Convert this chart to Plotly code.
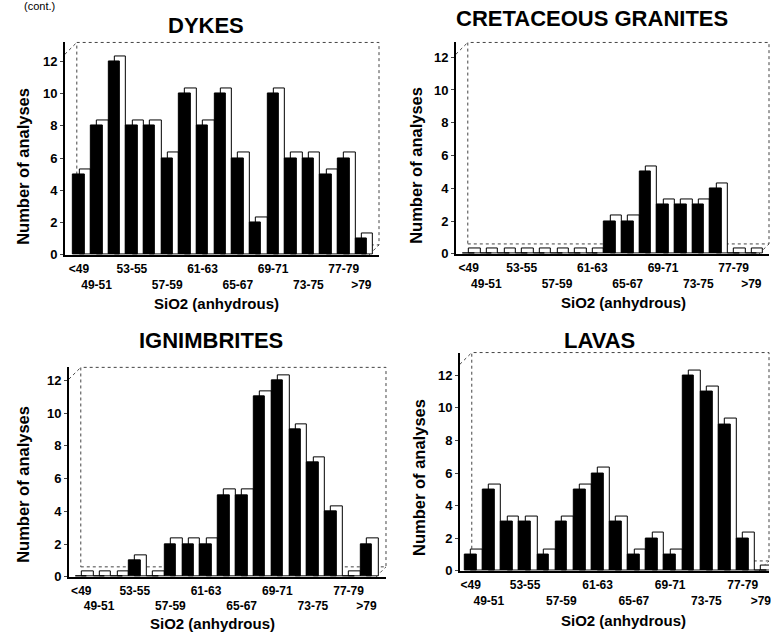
import plotly.graph_objects as go

categories = ["<49", "49-51", "51-53", "53-55", "55-57", "57-59", "59-61", "61-63",
              "63-65", "65-67", "67-69", "69-71", "71-73", "73-75", "75-77", "77-79", ">79"]
dykes = [5, 8, 12, 8, 8, 6, 10, 8, 10, 6, 2, 10, 6, 6, 5, 6, 1]
granites = [0, 0, 0, 0, 0, 0, 0, 0, 2, 2, 5, 3, 3, 3, 4, 0, 0]
ignimbrites = [0, 0, 0, 1, 0, 2, 2, 2, 5, 5, 11, 12, 9, 7, 4, 0, 2]
lavas = [1, 5, 3, 3, 1, 3, 5, 6, 3, 1, 2, 1, 12, 11, 9, 2, 0]

titles = ["DYKES", "CRETACEOUS GRANITES", "IGNIMBRITES", "LAVAS"]
series = [dykes, granites, ignimbrites, lavas]

# tick labels: top row / bottom row alternate
tick_idx = [0, 1, 3, 5, 7, 9, 11, 13, 15, 16]
tick_labels = ["<49", "<br>49-51", "53-55", "<br>57-59", "61-63", "<br>65-67",
               "69-71", "<br>73-75", "77-79", "<br>>79"]
y_ticks = [0, 2, 4, 6, 8, 10, 12]

W, H = 771, 642
# panel geometry in pixels
panels = [
    dict(l=65, r=380, b=258, t=43, xr=[-0.8, 17.0], yr=[0, 13.17],
         title=(207, 26), xt=(217, 307), yt=(23, 168)),
    dict(l=457, r=771, b=257, t=43, xr=[-0.73, 17.0], yr=[0, 12.9],
         title=(594, 19), xt=(625, 306), yt=(417, 167)),
    dict(l=69, r=387, b=584, t=372, xr=[-0.7, 17.1], yr=[0, 12.8],
         title=(212, 345), xt=(213, 631), yt=(23, 490)),
    dict(l=461, r=771, b=578, t=357, xr=[-0.6, 16.45], yr=[0, 13.4],
         title=(601, 345), xt=(625, 628), yt=(420, 483)),
]

FONT = "Liberation Sans, Arial, sans-serif"
fig = go.Figure()
x_idx = list(range(len(categories)))
front_w = 0.65
dx = 0.35
dy = 0.32

annotations = []
shapes = []
for i, (p, vals, ttl) in enumerate(zip(panels, series, titles)):
    ax = "" if i == 0 else str(i + 1)
    xa, ya = "x" + ax, "y" + ax
    back = [v + dy for v in vals]
    fig.add_trace(go.Bar(x=x_idx, y=back, xaxis=xa, yaxis=ya, width=front_w,
                         offset=-front_w / 2 + dx,
                         marker=dict(color="white", line=dict(color="black", width=1)),
                         showlegend=False, hoverinfo="skip"))
    fig.add_trace(go.Bar(x=x_idx, y=vals, xaxis=xa, yaxis=ya, width=front_w,
                         offset=-front_w / 2,
                         marker=dict(color="black", line=dict(color="black", width=1)),
                         showlegend=False, customdata=categories,
                         hovertemplate="%{customdata}: %{y}<extra></extra>"))
    xdom = [p["l"] / W, p["r"] / W]
    ydom = [1 - p["b"] / H, 1 - p["t"] / H]
    fig.layout["xaxis" + ax] = dict(
        domain=xdom, range=p["xr"], anchor=ya, tickmode="array", tickvals=tick_idx,
        ticktext=tick_labels, ticks="", showgrid=False, zeroline=False,
        showline=True, linecolor="black", linewidth=1.5, ticklabelstandoff=2,
        ticklabeloverflow="allow",
        tickfont=dict(family=FONT, size=12, color="black", weight="bold"),
        tickangle=0)
    fig.layout["yaxis" + ax] = dict(
        domain=ydom, range=p["yr"], anchor=xa, tickvals=y_ticks, ticks="outside",
        ticklen=3, showgrid=False, zeroline=False, showline=True, linecolor="black",
        linewidth=1.5, tickfont=dict(family=FONT, size=13, color="black", weight="bold"))
    # back wall (dotted) of pseudo-3D frame
    shapes.append(dict(type="rect", xref="paper", yref="paper",
                       x0=(p["l"] + 12) / W, x1=p["r"] / W,
                       y0=1 - (p["b"] - 10) / H, y1=1 - p["t"] / H,
                       line=dict(color="#444", width=1, dash="dot"), layer="below"))
    shapes.append(dict(type="line", xref="paper", yref="paper",
                       x0=p["l"] / W, x1=(p["l"] + 12) / W,
                       y0=1 - (p["t"] + 12) / H, y1=1 - p["t"] / H,
                       line=dict(color="#444", width=1, dash="dot"), layer="below"))
    shapes.append(dict(type="line", xref="paper", yref="paper",
                       x0=(p["r"] - 10) / W, x1=p["r"] / W,
                       y0=1 - p["b"] / H, y1=1 - (p["b"] - 10) / H,
                       line=dict(color="#444", width=1, dash="dot"), layer="below"))
    annotations.append(dict(text=ttl, x=p["title"][0] / W, y=1 - p["title"][1] / H,
                            xref="paper", yref="paper", showarrow=False,
                            font=dict(family=FONT, size=22, color="black", weight="bold"),
                            xanchor="center", yanchor="middle"))
    annotations.append(dict(text="SiO2 (anhydrous)", x=p["xt"][0] / W, y=1 - p["xt"][1] / H,
                            xref="paper", yref="paper", showarrow=False,
                            font=dict(family=FONT, size=15, color="black", weight="bold"),
                            xanchor="center", yanchor="middle"))
    annotations.append(dict(text="Number of analyses", x=p["yt"][0] / W, y=1 - p["yt"][1] / H,
                            xref="paper", yref="paper", showarrow=False, textangle=-90,
                            font=dict(family=FONT, size=16.5, color="black", weight="bold"),
                            xanchor="center", yanchor="middle"))

annotations.append(dict(text="(cont.)", x=40 / W, y=1 - 6 / H, xref="paper", yref="paper",
                        showarrow=False, xanchor="center", yanchor="middle",
                        font=dict(family=FONT, size=11, color="black")))

fig.update_layout(width=W, height=H, margin=dict(l=0, r=0, t=0, b=0),
                  paper_bgcolor="white", plot_bgcolor="white", barmode="overlay",
                  annotations=annotations, shapes=shapes, bargap=0)
fig.write_html("out.html")
